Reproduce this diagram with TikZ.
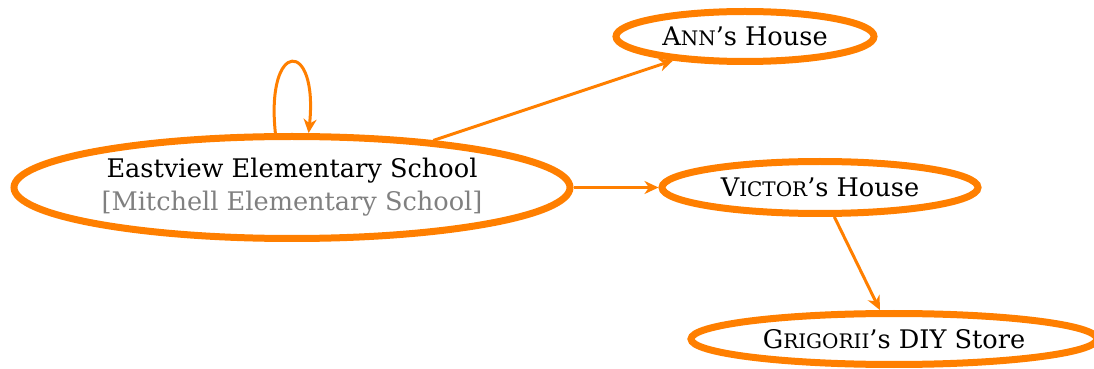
\documentclass[tikz,border=0pt]{standalone}
\usepackage{fontspec}
\setmainfont{DejaVu Serif}
\usetikzlibrary{arrows.meta}
\usetikzlibrary{shapes.geometric}
\definecolor{placeorange}{RGB}{255,127,0}
\definecolor{oldname}{RGB}{128,128,128}

% fake small caps
\newcommand{\smallcap}[2]{#1{\fontsize{10}{12}\selectfont #2}}

\tikzset{
    place/.style={ellipse, draw=placeorange, line width=3.5pt, inner sep=0pt,
        align=center, font=\fontsize{12.8}{16.5}\selectfont},
    link/.style={draw=placeorange, line width=1.5pt,
        -{Stealth[length=7pt, width=6.5pt, inset=2.2pt]}}
}

\begin{document}
\begin{tikzpicture}[x=0.5pt, y=-0.5pt]
    \useasboundingbox (0,0) rectangle (1094,369);
    % Places
    \node[place, minimum width=278pt, minimum height=51pt] (school) at (292,187.5)
        {Eastview Elementary School\\\textcolor{oldname}{[Mitchell Elementary School]}};
    \node[place, minimum width=129pt, minimum height=25pt] (ann) at (745,36.5)
        {\smallcap{A}{NN}'s House};
    \node[place, minimum width=158pt, minimum height=26pt] (victor) at (820,187.5)
        {\smallcap{V}{ICTOR}'s House};
    \node[place, minimum width=203pt, minimum height=25.5pt] (grigorii) at (894,339)
        {\smallcap{G}{RIGORII}'s DIY Store};

    % Links
    \draw[link] (school.107) .. controls +(-96:95) and +(-84:95) .. (school.73);
    \draw[link] (school) -- (ann);
    \draw[link] (school) -- (victor);
    \draw[link] (victor) -- (grigorii);
\end{tikzpicture}
\end{document}
